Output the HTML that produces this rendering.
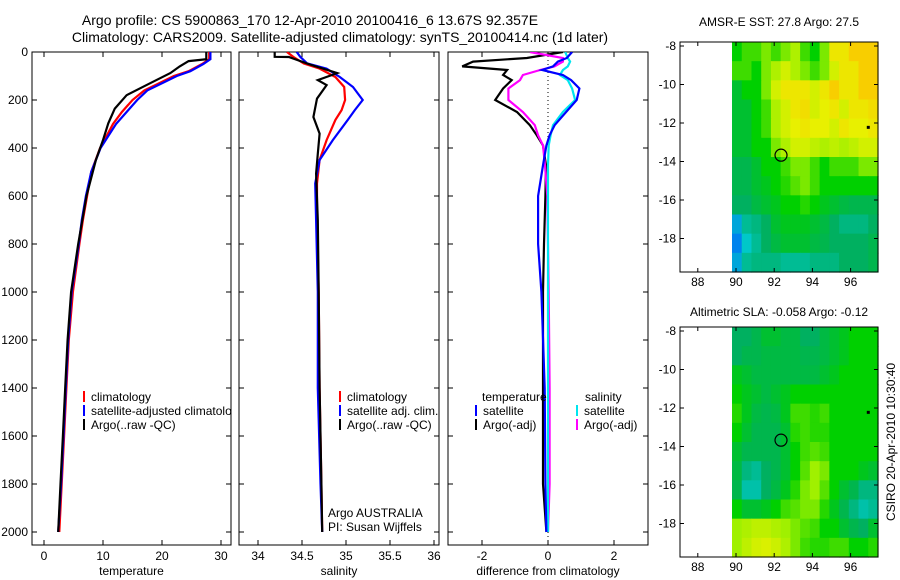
<!DOCTYPE html>
<html><head><meta charset="utf-8"><style>
html,body{margin:0;padding:0;background:#fff;}
svg{display:block;font-family:"Liberation Sans",sans-serif;}
</style></head><body>
<svg id="fig" width="900" height="580" viewBox="0 0 900 580" xmlns="http://www.w3.org/2000/svg">
<text x="310" y="25" font-size="14" text-anchor="middle">Argo profile: CS 5900863_170 12-Apr-2010 20100416_6 13.67S 92.357E</text>
<text x="340" y="42" font-size="14" text-anchor="middle">Climatology: CARS2009. Satellite-adjusted climatology: synTS_20100414.nc (1d later)</text>
<text x="779" y="26" font-size="12" text-anchor="middle">AMSR-E SST: 27.8 Argo: 27.5</text>
<text x="779" y="316" font-size="12" text-anchor="middle">Altimetric SLA: -0.058 Argo: -0.12</text>
<text transform="translate(895,442) rotate(-90)" font-size="12" text-anchor="middle">CSIRO 20-Apr-2010 10:30:40</text>
<g id="root"></g>
</svg>
<script>
// ---------- data ----------
const tempDepth = [0,30,50,80,100,130,160,200,250,300,400,500,600,700,800,1000,1200,1400,1600,1800,2000];
const tempClim  = [28,28,26.8,24.5,22,19.5,17,15,13.2,11.7,9.5,8,7.3,6.6,6,4.9,4.2,3.8,3.4,3,2.6];
const tempSat   = [28.2,28.2,27,24.8,22.5,20,17.5,15.8,14,12.2,9.6,8,7.1,6.4,5.9,4.7,4.1,3.7,3.3,2.9,2.4];
const tempArgoDepth = [0,30,38,60,88,130,180,236,297,367,450,600,800,1000,1200,1400,1600,1800,2000];
const tempArgo  = [27.5,27.5,24.5,23,21.4,18,14,12,10.9,10,8.8,7.2,5.8,4.6,4.0,3.6,3.2,2.8,2.4];

const salDepth = [0,20,48,69,104,146,200,242,283,367,450,548,700,1000,1400,1800,2000];
const salClim  = [34.33,34.4,34.52,34.7,34.88,34.98,34.99,34.95,34.88,34.78,34.7,34.67,34.67,34.69,34.7,34.72,34.73];
const salSat   = [34.44,34.48,34.56,34.78,34.93,35.08,35.19,35.1,35.02,34.85,34.7,34.65,34.66,34.68,34.68,34.71,34.73];
const salArgoDepth = [0,20,21,52,88,117,138,194,271,340,424,507,700,1000,1400,1800,2000];
const salArgo  = [34.19,34.19,34.35,34.59,34.9,34.68,34.78,34.67,34.63,34.7,34.68,34.66,34.68,34.69,34.7,34.72,34.73];

const diffDepth = [0,25,40,60,75,96,117,152,200,250,305,347,389,472,600,800,1000,1400,1800,2000];
const diffTempSat  = [0.73,0.57,0.3,0.15,-0.18,0.45,0.7,0.95,0.87,0.55,0.2,0.05,-0.05,-0.15,-0.3,-0.3,-0.2,-0.1,-0.08,-0.05];
const diffTempArgo = [0.45,-0.64,-2.27,-2.6,-1.24,-1.36,-1.1,-1.36,-1.6,-0.94,-0.55,-0.34,-0.15,-0.06,-0.08,-0.12,-0.15,-0.15,-0.15,-0.05];
const diffSalSat   = [0.52,0.6,0.67,0.6,0.45,0.36,0.6,0.73,0.82,0.45,0.15,0.08,0.02,0.0,0.0,0.0,0.0,0.0,0.0,0.0];
const diffSalArgo  = [-0.55,0.45,0.45,0.2,-0.24,-0.76,-0.85,-1.2,-1.2,-0.76,-0.4,-0.3,-0.15,-0.09,-0.02,0.0,0.02,0.05,0.05,0.0];

const tempTicks = [0,10,20,30];
const salTicks = [34,34.5,35,35.5,36];
const diffTicks = [-2,0,2];
const depthTicks = [0,200,400,600,800,1000,1200,1400,1600,1800,2000];
const lonTicks = [88,90,92,94,96];
const latTicks = [-8,-10,-12,-14,-16,-18];

const sstGrid = [
[0.55,0.6,0.6,0.65,0.6,0.65,0.7,0.6,0.55,0.65,0.8,0.8,0.85,0.85,0.85],
[0.6,0.6,0.55,0.65,0.7,0.75,0.7,0.65,0.6,0.65,0.75,0.8,0.8,0.85,0.85],
[0.5,0.55,0.55,0.65,0.75,0.8,0.8,0.8,0.75,0.8,0.85,0.8,0.8,0.85,0.85],
[0.5,0.5,0.55,0.6,0.7,0.75,0.8,0.82,0.75,0.78,0.8,0.75,0.8,0.8,0.82],
[0.5,0.5,0.55,0.6,0.7,0.75,0.78,0.8,0.78,0.78,0.75,0.8,0.78,0.78,0.8],
[0.5,0.5,0.55,0.55,0.65,0.7,0.75,0.75,0.72,0.7,0.72,0.7,0.72,0.75,0.75],
[0.47,0.47,0.5,0.55,0.55,0.6,0.65,0.65,0.6,0.55,0.6,0.6,0.6,0.65,0.65],
[0.47,0.47,0.5,0.52,0.55,0.58,0.62,0.65,0.6,0.55,0.55,0.55,0.55,0.55,0.55],
[0.45,0.45,0.48,0.5,0.52,0.55,0.55,0.58,0.55,0.52,0.5,0.48,0.47,0.47,0.47],
[0.3,0.4,0.42,0.45,0.5,0.52,0.52,0.52,0.5,0.48,0.45,0.42,0.42,0.42,0.45],
[0.25,0.35,0.4,0.45,0.48,0.5,0.5,0.5,0.48,0.47,0.45,0.45,0.45,0.45,0.47],
[0.3,0.4,0.42,0.42,0.42,0.4,0.4,0.4,0.42,0.42,0.42,0.45,0.45,0.45,0.47]];
const slaGrid = [
[0.45,0.45,0.47,0.5,0.5,0.48,0.48,0.45,0.45,0.48,0.5,0.52,0.55,0.55,0.55],
[0.45,0.47,0.47,0.48,0.48,0.48,0.48,0.47,0.47,0.48,0.5,0.52,0.55,0.55,0.55],
[0.52,0.5,0.48,0.48,0.48,0.48,0.48,0.48,0.48,0.5,0.52,0.55,0.55,0.55,0.55],
[0.55,0.52,0.5,0.48,0.5,0.52,0.55,0.55,0.55,0.55,0.55,0.55,0.55,0.55,0.55],
[0.58,0.52,0.48,0.47,0.48,0.52,0.6,0.6,0.58,0.6,0.55,0.55,0.55,0.55,0.55],
[0.55,0.5,0.47,0.47,0.47,0.5,0.58,0.6,0.58,0.58,0.55,0.55,0.55,0.55,0.55],
[0.5,0.47,0.47,0.47,0.47,0.5,0.55,0.6,0.62,0.6,0.55,0.55,0.55,0.55,0.55],
[0.48,0.42,0.4,0.45,0.47,0.5,0.55,0.62,0.68,0.65,0.55,0.55,0.55,0.52,0.5],
[0.47,0.38,0.38,0.45,0.48,0.52,0.58,0.65,0.68,0.62,0.55,0.5,0.47,0.42,0.42],
[0.55,0.5,0.5,0.52,0.55,0.6,0.62,0.65,0.65,0.58,0.52,0.47,0.42,0.38,0.4],
[0.68,0.7,0.72,0.72,0.7,0.68,0.65,0.62,0.6,0.55,0.55,0.5,0.47,0.45,0.5],
[0.68,0.72,0.75,0.76,0.74,0.7,0.65,0.6,0.58,0.58,0.6,0.6,0.55,0.55,0.58]];
const argoLon = 92.357, argoLat = -13.67;

// ---------- helpers ----------
const NS="http://www.w3.org/2000/svg";
const root=document.getElementById('root');
function mk(tag,attrs,parent){const e=document.createElementNS(NS,tag);for(const k in attrs)e.setAttribute(k,attrs[k]);(parent||root).appendChild(e);return e;}
const yD = d => 52 + 0.24*d;

function panel(name,x0,x1,xs,ticks,fmt,xlabel,showY){
  const g=mk('g',{});
  
  
  const box=mk('rect',{x:x0,y:52,width:x1-x0,height:493,fill:'none',stroke:'#000','stroke-width':1},g);
  
  
  ticks.forEach(t=>{const x=xs(t);
    mk('line',{x1:x,x2:x,y1:52,y2:57,stroke:'#000'},g);
    mk('line',{x1:x,x2:x,y1:545,y2:540,stroke:'#000'},g);
    const tl=mk('text',{x:x,y:560,'font-size':12,'text-anchor':'middle'},g);tl.textContent=fmt(t);
    
    
  });
  depthTicks.forEach(d=>{const y=yD(d);
    mk('line',{x1:x0,x2:x0+5,y1:y,y2:y,stroke:'#000'},g);
    mk('line',{x1:x1,x2:x1-5,y1:y,y2:y,stroke:'#000'},g);
    if(showY){const tl=mk('text',{x:x0-4,y:y+4,'font-size':12,'text-anchor':'end'},g);tl.textContent=d;
      
      }
  });
  const xl=mk('text',{x:(x0+x1)/2,y:575,'font-size':12,'text-anchor':'middle'},g);xl.textContent=xlabel;
  
  
  return g;
}
function series(name,g,depths,vals,xs,color,clipId){
  const pts=depths.map((d,i)=>xs(vals[i]).toFixed(1)+','+yD(d).toFixed(1)).join(' ');
  const p=mk('polyline',{points:pts,fill:'none',stroke:color,'stroke-width':2.2,'clip-path':'url(#'+clipId+')'},g);
  
  
}
function clip(id,x0,x1){const defs=mk('defs',{});const c=mk('clipPath',{id:id},defs);mk('rect',{x:x0,y:52,width:x1-x0,height:493},c);}
function legend(g,x,y,color,label,clipW){
  const m=mk('line',{x1:x,x2:x,y1:y-10,y2:y+1,stroke:color,'stroke-width':2},g);
  
  
  const t=mk('text',{x:x+7,y:y,'font-size':12},g);t.textContent=label;
  
  
  if(clipW)t.setAttribute('clip-path','url(#'+clipW+')');
}

// ---------- temperature panel ----------
const xT = t => 44 + 5.9*t;
clip('c1',32,231);
const g1=panel('temperature-panel',32,231,xT,tempTicks,t=>t,'temperature',true);
series('temperature-climatology-line',g1,tempDepth,tempClim,xT,'#ff0000','c1');
series('temperature-satellite-line',g1,tempDepth,tempSat,xT,'#0000ff','c1');
series('temperature-argo-line',g1,tempArgoDepth,tempArgo,xT,'#000000','c1');
legend(g1,84,401,'#ff0000','climatology');
legend(g1,84,415,'#0000ff','satellite-adjusted climatology','c1');
legend(g1,84,429,'#000000','Argo(..raw -QC)');

// ---------- salinity panel ----------
const xS = s => 258 + 88*(s-34);
clip('c2',239,439);
const g2=panel('salinity-panel',239,439,xS,salTicks,s=>s,'salinity',false);
series('salinity-climatology-line',g2,salDepth,salClim,xS,'#ff0000','c2');
series('salinity-satellite-line',g2,salDepth,salSat,xS,'#0000ff','c2');
series('salinity-argo-line',g2,salArgoDepth,salArgo,xS,'#000000','c2');
legend(g2,340,401,'#ff0000','climatology');
legend(g2,340,415,'#0000ff','satellite adj. clim.');
legend(g2,340,429,'#000000','Argo(..raw -QC)');
const a1=mk('text',{x:328,y:517,'font-size':12},g2);a1.textContent='Argo AUSTRALIA';


const a2=mk('text',{x:328,y:531,'font-size':12},g2);a2.textContent='PI: Susan Wijffels';



// ---------- difference panel ----------
const xDf = v => 548 + 33*v;
clip('c3',448,648);
const g3=panel('difference-panel',448,648,xDf,diffTicks,v=>v,'difference from climatology',false);
const zl=mk('line',{x1:xDf(0),x2:xDf(0),y1:52,y2:545,stroke:'#000','stroke-dasharray':'1,3'},g3);


series('temp-diff-argo-line',g3,diffDepth,diffTempArgo,xDf,'#000000','c3');
series('sal-diff-argo-line',g3,diffDepth,diffSalArgo,xDf,'#ff00ff','c3');
series('sal-diff-satellite-line',g3,diffDepth,diffSalSat,xDf,'#00e5ee','c3');
series('temp-diff-satellite-line',g3,diffDepth,diffTempSat,xDf,'#0000ff','c3');
const lt=mk('text',{x:482,y:401,'font-size':12},g3);lt.textContent='temperature';


const ls=mk('text',{x:585,y:401,'font-size':12},g3);ls.textContent='salinity';


legend(g3,476,415,'#0000ff','satellite');
legend(g3,476,429,'#000000','Argo(-adj)');
legend(g3,577,415,'#00e5ee','satellite');
legend(g3,577,429,'#ff00ff','Argo(-adj)');

// ---------- maps ----------
const stops=[[0,[0,0,139]],[0.2,[0,96,255]],[0.35,[0,200,200]],[0.45,[0,176,96]],[0.55,[0,208,0]],[0.68,[160,240,0]],[0.78,[232,240,0]],[0.88,[255,192,0]],[1,[192,0,0]]];
function cmap(v){for(let i=1;i<stops.length;i++){if(v<=stops[i][0]){const a=stops[i-1],b=stops[i];const f=(v-a[0])/(b[0]-a[0]);
  return 'rgb('+a[1].map((c,k)=>Math.round(c+(b[1][k]-c)*f)).join(',')+')';}}return 'rgb(192,0,0)';}
function drawMap(name,top,grid){
  const bottom=top+230;
  const xL = l => 736 + (l-90)*19.1;
  const yL = la => top+4 + (-8-la)*19.25;
  const g=mk('g',{});
  
  
  const rows=grid.length, cols=grid[0].length;
  const gx0=xL(90)-4, gx1=878, cw=(gx1-gx0)/cols, rh=(bottom-top)/rows;
  grid.forEach((row,r)=>row.forEach((v,c)=>{
    const cell=mk('rect',{x:(gx0+c*cw).toFixed(2),y:(top+r*rh).toFixed(2),width:(cw+0.6).toFixed(2),height:(rh+0.6).toFixed(2),fill:cmap(v)},g);
    
    
  }));
  const fr=mk('rect',{x:680,y:top,width:198,height:230,fill:'none',stroke:'#000'},g);
  
  
  lonTicks.forEach(l=>{const x=xL(l);
    mk('line',{x1:x,x2:x,y1:top,y2:top+4,stroke:'#000'},g);
    mk('line',{x1:x,x2:x,y1:bottom,y2:bottom-4,stroke:'#000'},g);
    const t=mk('text',{x:x,y:bottom+14,'font-size':12,'text-anchor':'middle'},g);t.textContent=l;
    
    });
  latTicks.forEach(la=>{const y=yL(la);
    mk('line',{x1:680,x2:684,y1:y,y2:y,stroke:'#000'},g);
    mk('line',{x1:878,x2:874,y1:y,y2:y,stroke:'#000'},g);
    const t=mk('text',{x:676,y:y+4,'font-size':12,'text-anchor':'end'},g);t.textContent=la;
    
    });
  const c=mk('circle',{cx:xL(argoLon),cy:yL(argoLat),r:6,fill:'none',stroke:'#000','stroke-width':1.2},g);
  
  
  const d=mk('rect',{x:xL(96.9)-1,y:yL(-12.2)-1,width:3,height:3,fill:'#000'},g);
  
  
}
drawMap('sst-map',42,sstGrid);
drawMap('sla-map',327,slaGrid);
</script>
</body></html>
